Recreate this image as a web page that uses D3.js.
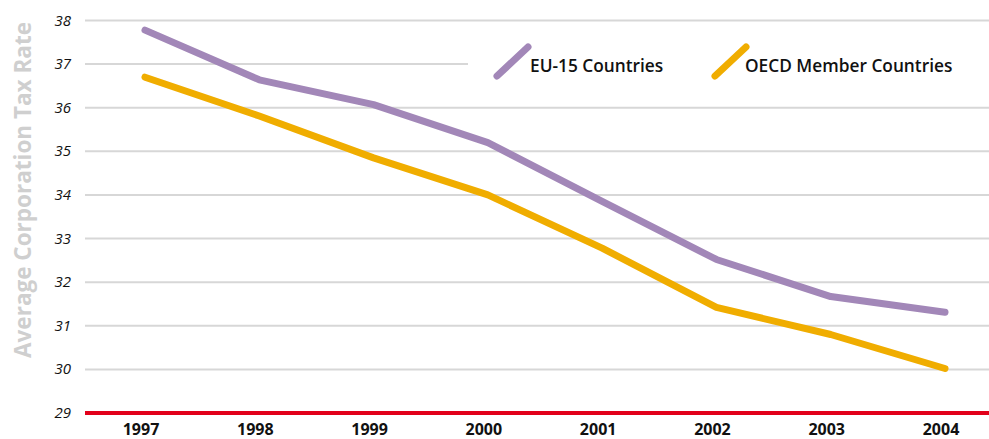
<!DOCTYPE html>
<html>
<head>
<meta charset="utf-8">
<script src="https://cdn.jsdelivr.net/npm/d3@7"></script>
<style>
  body { margin: 0; background: #fff; }
  svg { display: block; font-family: "Open Sans", sans-serif; }
</style>
</head>
<body>
<div id="chart"></div>
<script>
var years = ["1997", "1998", "1999", "2000", "2001", "2002", "2003", "2004"];
var eu15 = [37.78, 36.64, 36.07, 35.2, 33.85, 32.52, 31.67, 31.31];
var oecd = [36.7, 35.81, 34.85, 34.0, 32.78, 31.42, 30.8, 30.02];
var yTicks = [29, 30, 31, 32, 33, 34, 35, 36, 37, 38];
var seriesNames = ["EU-15 Countries", "OECD Member Countries"];

var fullWidth = 989;
var fullHeight = 439;

var svg = d3.select("#chart")
    .append("svg")
    .attr("width", fullWidth)
    .attr("height", fullHeight);

var x = d3.scalePoint()
    .domain(years)
    .range([145, 945]);

var y = d3.scaleLinear()
    .domain([29, 38])
    .range([413, 20.5]);

var color = d3.scaleOrdinal()
    .domain(seriesNames)
    .range(["#a287b8", "#f0ad00"]);

// gridlines
svg.append("g")
    .selectAll("line")
    .data(yTicks.filter(d => d > 29))
    .enter()
    .append("line")
    .attr("x1", 85)
    .attr("x2", fullWidth)
    .attr("y1", d => y(d))
    .attr("y2", d => y(d))
    .style("stroke", "#d7d7d7")
    .style("stroke-width", 2);

// red base line
svg.append("line")
    .attr("x1", 85)
    .attr("x2", fullWidth)
    .attr("y1", y(29))
    .attr("y2", y(29))
    .style("stroke", "#e2001a")
    .style("stroke-width", 4);

// y tick labels
svg.append("g")
    .selectAll("text")
    .data(yTicks)
    .enter()
    .append("text")
    .attr("x", 71)
    .attr("y", d => y(d) + 5)
    .attr("text-anchor", "end")
    .style("font-style", "italic")
    .style("font-size", "15px")
    .style("fill", "#111")
    .text(d => d);

// x labels
svg.append("g")
    .selectAll("text")
    .data(years)
    .enter()
    .append("text")
    .attr("x", d => x(d) - 4)
    .attr("y", 435)
    .attr("text-anchor", "middle")
    .style("font-weight", "700")
    .style("font-size", "16px")
    .style("fill", "#111")
    .text(d => d);

// y axis title
svg.append("text")
    .attr("transform", "translate(31,190) rotate(-90)")
    .attr("text-anchor", "middle")
    .style("font-weight", "700")
    .style("font-size", "22.5px")
    .style("fill", "#cfcfcf")
    .text("Average Corporation Tax Rate");

// legend background
svg.append("rect")
    .attr("x", 468)
    .attr("y", 36)
    .attr("width", fullWidth - 468)
    .attr("height", 58)
    .style("fill", "#fff");

// lines
var line = d3.line()
    .x((d, i) => x(years[i]))
    .y(d => y(d));

[eu15, oecd].forEach(function (vals, k) {
    svg.append("path")
        .datum(vals)
        .attr("d", line)
        .style("fill", "none")
        .style("stroke", color(seriesNames[k]))
        .style("stroke-width", 7)
        .style("stroke-linecap", "round")
        .style("stroke-linejoin", "round");
});

// legend
var legendX = [497, 715];
var legend = svg.append("g")
    .selectAll("g")
    .data(seriesNames)
    .enter()
    .append("g")
    .attr("transform", (d, i) => "translate(" + legendX[i] + ",0)");

legend.append("line")
    .attr("x1", 0)
    .attr("y1", 76)
    .attr("x2", 31)
    .attr("y2", 47)
    .style("stroke", d => color(d))
    .style("stroke-width", 7)
    .style("stroke-linecap", "round");

legend.append("text")
    .attr("x", (d, i) => i === 0 ? 33 : 30)
    .attr("y", 72)
    .style("font-weight", "600")
    .style("font-size", "17.3px")
    .style("fill", "#111")
    .text(d => d);
</script>
</body>
</html>
